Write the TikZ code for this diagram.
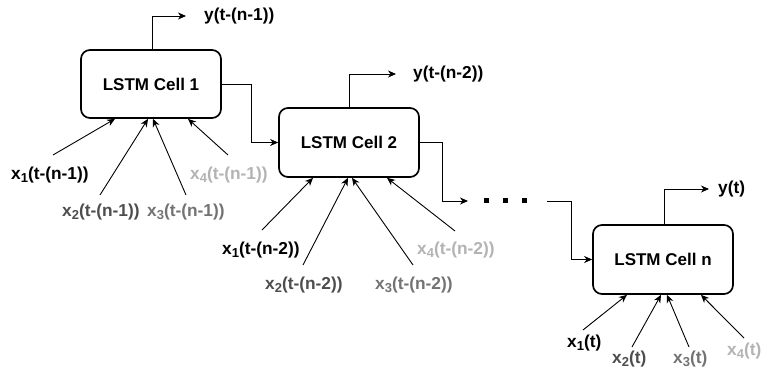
\documentclass[tikz,border=0pt]{standalone}
\usepackage{fontspec}
\setmainfont{Liberation Sans}
\usetikzlibrary{arrows.meta}
\definecolor{gA}{HTML}{4D4D4D}
\definecolor{gB}{HTML}{737373}
\definecolor{gC}{HTML}{B3B3B3}
\newcommand\sbx[1]{\raisebox{-3.5pt}{\fontsize{13}{14}\selectfont #1}}
\begin{document}
\begin{tikzpicture}[x=1pt,y=-1pt,
  cell/.style={draw, line width=1.7pt, rounded corners=9pt, minimum width=140pt, minimum height=68pt, inner sep=0pt, font=\fontsize{17}{20}\selectfont\bfseries},
  lbl/.style={font=\fontsize{17.3}{20}\selectfont\bfseries, inner sep=0pt, anchor=west},
  arr/.style={-{Stealth[length=8pt,width=7pt,inset=2.5pt]}, line width=0.9pt},
  sq/.style={fill=black, minimum size=5pt, inner sep=0pt}]
\useasboundingbox (0,0) rectangle (766,371);
% cells
\node[cell] (c1) at (151,84) {LSTM Cell 1};
\node[cell, minimum height=69pt] (c2) at (349,142.5) {LSTM Cell 2};
\node[cell, minimum height=69pt] (cn) at (663,259.5) {LSTM Cell n};
% outputs
\coordinate (y1e) at (186,16);
\coordinate (y2e) at (396,74);
\coordinate (yne) at (709,189);
\draw[arr] ([xshift=1pt]c1.north) |- (y1e);
\draw[arr] (c2.north) |- (y2e);
\draw[arr] ([xshift=1pt]cn.north) |- (yne);
\node[lbl] (y1) at (204,16) {y(t-(n-1))};
\node[lbl] (y2) at (413,74) {y(t-(n-2))};
\node[lbl] (yn) at (718,189) {y(t)};
% chain
\node[sq] (d1) at (486,201) {};
\node[sq] (d2) at (505,201) {};
\node[sq] (d3) at (524,201) {};
\coordinate (din) at (468,201);
\coordinate (dout) at (547,201);
\draw[arr] (c1.east) -- ++(30,0) |- (c2.west);
\draw[arr] (c2.east) -- ++(23,0) |- (din);
\draw[arr] (dout) -- ++(24,0) |- (cn.west);
% inputs cell 1
\coordinate (a11) at (53,155);
\coordinate (a12) at (100,195);
\coordinate (a13) at (186,195);
\coordinate (a14) at (228,155);
\draw[arr] (a11) -- ([xshift=-36pt]c1.south);
\draw[arr] (a12) -- ([xshift=-3pt]c1.south);
\draw[arr] (a13) -- ([xshift=2pt]c1.south);
\draw[arr] (a14) -- ([xshift=37pt]c1.south);
\node[lbl] (x11) at (11,175) {x\sbx{1}(t-(n-1))};
\node[lbl, text=gA] (x12) at (62,212) {x\sbx{2}(t-(n-1))};
\node[lbl, text=gB] (x13) at (147,212) {x\sbx{3}(t-(n-1))};
\node[lbl, text=gC] (x14) at (190,175) {x\sbx{4}(t-(n-1))};
% inputs cell 2
\coordinate (a21) at (262,230);
\coordinate (a22) at (303,265);
\coordinate (a23) at (413,265);
\coordinate (a24) at (455,231);
\draw[arr] (a21) -- ([xshift=-36pt]c2.south);
\draw[arr] (a22) -- ([xshift=-1pt]c2.south);
\draw[arr] (a23) -- ([xshift=3pt]c2.south);
\draw[arr] (a24) -- ([xshift=38pt]c2.south);
\node[lbl] (x21) at (222,250) {x\sbx{1}(t-(n-2))};
\node[lbl, text=gA] (x22) at (265,285) {x\sbx{2}(t-(n-2))};
\node[lbl, text=gB] (x23) at (375,285) {x\sbx{3}(t-(n-2))};
\node[lbl, text=gC] (x24) at (417,250) {x\sbx{4}(t-(n-2))};
% inputs cell n
\coordinate (an1) at (583,330);
\coordinate (an2) at (632,347);
\coordinate (an3) at (689,347);
\coordinate (an4) at (744,338);
\draw[arr] (an1) -- ([xshift=-36pt]cn.south);
\draw[arr] (an2) -- ([xshift=-2pt]cn.south);
\draw[arr] (an3) -- ([xshift=4pt]cn.south);
\draw[arr] (an4) -- ([xshift=38pt]cn.south);
\node[lbl] (xn1) at (567,343) {x\sbx{1}(t)};
\node[lbl, text=gA] (xn2) at (612,359) {x\sbx{2}(t)};
\node[lbl, text=gB] (xn3) at (673,359) {x\sbx{3}(t)};
\node[lbl, text=gC] (xn4) at (727,351) {x\sbx{4}(t)};
\end{tikzpicture}
\end{document}
